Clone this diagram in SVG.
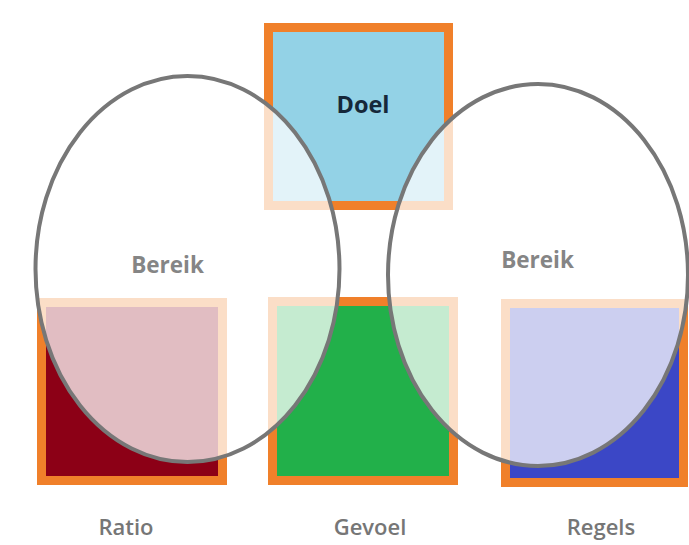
<svg xmlns="http://www.w3.org/2000/svg" width="689" height="545" viewBox="0 0 689 545">
<style>
.sq{stroke:#f0802a;stroke-width:9}
.ell{fill:#ffffff;fill-opacity:0.74;stroke:#777777;stroke-width:4}
.lbl{font-family:"Open Sans","DejaVu Sans",sans-serif;font-weight:600;font-size:22px;fill:#767676;text-anchor:middle}
.in{font-family:"Open Sans","DejaVu Sans",sans-serif;font-weight:bold;font-size:22.5px;fill:#858585;text-anchor:middle}
</style>
<rect width="689" height="545" fill="#ffffff"/>
<g id="doel"><rect class="sq" x="268.5" y="27.5" width="180" height="178" fill="#93d2e6"/></g>
<g id="ratio"><rect class="sq" x="41.5" y="302.5" width="181" height="178" fill="#8c0016"/></g>
<g id="gevoel"><rect class="sq" x="272.5" y="301.5" width="181" height="179" fill="#22b04a"/></g>
<g id="regels"><rect class="sq" x="505.5" y="303.5" width="178" height="179" fill="#3b47c6"/></g>
<g id="bereik-left"><ellipse class="ell" cx="187.5" cy="269" rx="152" ry="193"/><text class="in" x="167.5" y="273">Bereik</text></g>
<g id="bereik-right"><ellipse class="ell" cx="538" cy="275" rx="150" ry="191"/><text class="in" x="537.5" y="268">Bereik</text></g>
<text x="363" y="113" font-family="Open Sans, DejaVu Sans, sans-serif" font-weight="bold" font-size="23.5" fill="#16283a" text-anchor="middle">Doel</text>
<text class="lbl" x="126" y="535">Ratio</text>
<text class="lbl" x="370" y="535">Gevoel</text>
<text class="lbl" x="601" y="535">Regels</text>
</svg>
